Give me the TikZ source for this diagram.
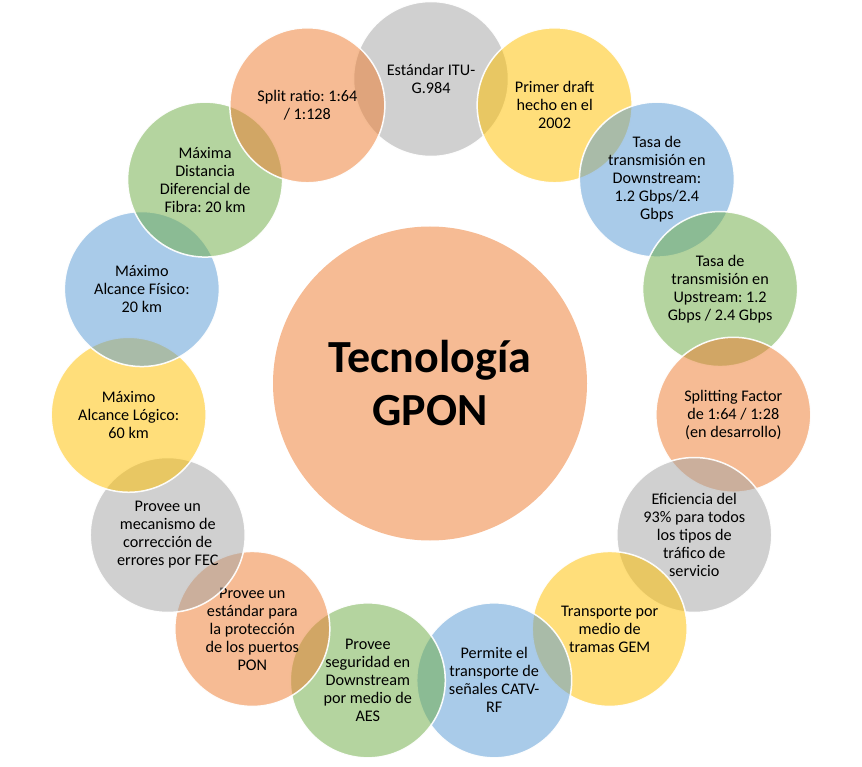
\documentclass[tikz,border=0pt]{standalone}
\usepackage{fontspec}
\setmainfont{Carlito}
\frenchspacing
\definecolor{cOrange}{RGB}{237,125,49}
\definecolor{cGray}{RGB}{165,165,165}
\definecolor{cYellow}{RGB}{255,192,0}
\definecolor{cBlue}{RGB}{91,155,213}
\definecolor{cGreen}{RGB}{112,173,71}
\tikzset{
  bubble/.style={circle, minimum size=155pt, inner sep=0pt, outer sep=0pt,
    fill opacity=0.52, text opacity=1, draw=white, draw opacity=0.95, line width=1.5pt,
    align=center, font=\fontsize{16.2}{18}\selectfont, text=black},
  hub/.style={circle, minimum size=314pt, inner sep=0pt, fill=cOrange, fill opacity=0.52,
    text opacity=1, align=center, font=\fontsize{46}{53}\selectfont\bfseries, text=black}
}
\begin{document}
\begin{tikzpicture}[x=1pt,y=1pt]
\useasboundingbox (0,0) rectangle (862,-767);
\coordinate (ctr) at (431,-383);
\node[hub] (hub) at (430,-383.5) {Tecnología\\GPON};
\node[bubble, fill=cGray]   (b0)  at ([shift={(90:304)}]ctr)   {Estándar ITU-\\G.984};
\node[bubble, fill=cYellow] (b1)  at ([shift={(66:304)}]ctr)   {Primer draft\\hecho en el\\2002};
\node[bubble, fill=cBlue]   (b2)  at ([shift={(42:304)}]ctr)   {Tasa de\\transmisión en\\Downstream:\\1.2 Gbps/2.4\\Gbps};
\node[bubble, fill=cGreen]  (b3)  at ([shift={(18:304)}]ctr)   {Tasa de\\transmisión en\\Upstream: 1.2\\Gbps / 2.4 Gbps};
\node[bubble, fill=cOrange] (b4)  at ([shift={(-6:304)}]ctr)   {Splitting Factor\\de 1:64 / 1:28\\(en desarrollo)};
\node[bubble, fill=cGray]   (b5)  at ([shift={(-30:304)}]ctr)  {Eficiencia del\\93\% para todos\\los tipos de\\tráfico de\\servicio};
\node[bubble, fill=cYellow] (b6)  at ([shift={(-54:304)}]ctr)  {Transporte por\\medio de\\tramas GEM};
\node[bubble, fill=cBlue]   (b7)  at ([shift={(-78:304)}]ctr)  {Permite el\\transporte de\\señales CATV-\\RF};
\node[bubble, fill=cGreen]  (b8)  at ([shift={(-102:304)}]ctr) {Provee\\seguridad en\\Downstream\\por medio de\\AES};
\node[bubble, fill=cOrange] (b9)  at ([shift={(-126:304)}]ctr) {Provee un\\estándar para\\la protección\\de los puertos\\PON};
\node[bubble, fill=cGray]   (b10) at ([shift={(-150:304)}]ctr) {Provee un\\mecanismo de\\corrección de\\errores por FEC};
\node[bubble, fill=cYellow] (b11) at ([shift={(-174:304)}]ctr) {Máximo\\Alcance Lógico:\\60 km};
\node[bubble, fill=cBlue]   (b12) at ([shift={(-198:304)}]ctr) {Máximo\\Alcance Físico:\\20 km};
\node[bubble, fill=cGreen]  (b13) at ([shift={(-222:304)}]ctr) {Máxima\\Distancia\\Diferencial de\\Fibra: 20 km};
\node[bubble, fill=cOrange] (b14) at ([shift={(-246:304)}]ctr) {Split ratio: 1:64\\/ 1:128};
\end{tikzpicture}
\end{document}
